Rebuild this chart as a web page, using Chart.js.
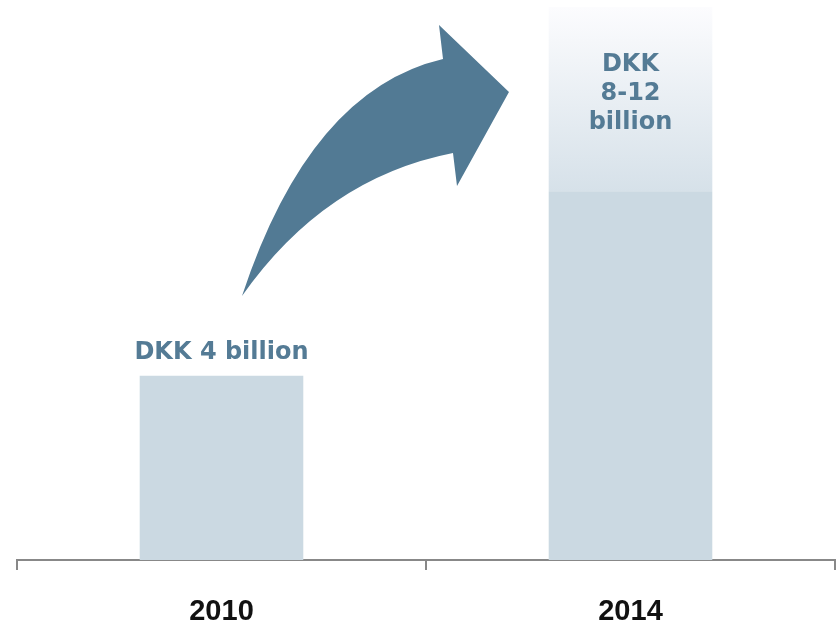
<!DOCTYPE html>
<html>
<head>
<meta charset="utf-8">
<script src="https://cdn.jsdelivr.net/npm/chart.js@4"></script>
<style>
html,body{margin:0;padding:0;background:#fff;}
#wrap{width:839px;height:626px;position:relative;}
</style>
</head>
<body>
<div id="wrap"><canvas id="c" width="839" height="626"></canvas></div>
<script>
// Data
const categories = ['2010', '2014'];
const baseValues = [4, 8];          // DKK billion, solid part
const rangeExtra = [null, 4];       // 2014 upper range 8 -> 12
const barLabels = ['DKK 4 billion', ['DKK', '8-12', 'billion']];
const yMax = 12;

// Arrow decoration (in category-index / value coordinates)
const arrowPts = {
  tail: [0.0501, 5.729],
  upperCtrl: [0.2164, 10.199],
  upperJoint: [0.5416, 10.872],
  upperBarb: [0.5318, 11.610],
  tip: [0.7029, 10.156],
  lowerBarb: [0.5758, 8.116],
  lowerJoint: [0.566, 8.832],
  lowerCtrl: [0.253, 8.289]
};

const textColor = '#547b95';
const barColor = '#cbd9e2';

const decoPlugin = {
  id: 'deco',
  afterDatasetsDraw(chart) {
    const ctx = chart.ctx;
    const xs = chart.scales.x, ys = chart.scales.y;
    const P = p => [xs.getPixelForValue(p[0]), ys.getPixelForValue(p[1])];
    const a = {};
    for (const k in arrowPts) a[k] = P(arrowPts[k]);
    ctx.save();
    ctx.fillStyle = '#527a94';
    ctx.beginPath();
    ctx.moveTo(...a.tail);
    ctx.quadraticCurveTo(...a.upperCtrl, ...a.upperJoint);
    ctx.lineTo(...a.upperBarb);
    ctx.lineTo(...a.tip);
    ctx.lineTo(...a.lowerBarb);
    ctx.lineTo(...a.lowerJoint);
    ctx.quadraticCurveTo(...a.lowerCtrl, ...a.tail);
    ctx.closePath();
    ctx.fill();
    ctx.restore();

    ctx.save();
    ctx.fillStyle = textColor;
    ctx.font = 'bold 24px "DejaVu Sans", Verdana, sans-serif';
    ctx.textAlign = 'center';
    ctx.textBaseline = 'middle';
    const m0 = chart.getDatasetMeta(0).data[0];
    ctx.fillText(barLabels[0], m0.x, m0.y - 23);
    const m1 = chart.getDatasetMeta(1).data[1];
    const lines = barLabels[1];
    lines.forEach((t, i) => {
      ctx.fillText(t, m1.x, m1.y + 58 + i * 29);
    });
    ctx.restore();
  }
};

new Chart(document.getElementById('c'), {
  type: 'bar',
  data: {
    labels: categories,
    datasets: [
      {
        data: baseValues,
        backgroundColor: barColor,
        borderWidth: 0,
        barPercentage: 0.8,
        categoryPercentage: 0.5
      },
      {
        data: rangeExtra,
        backgroundColor: (c) => {
          const ch = c.chart;
          const area = ch.chartArea;
          if (!area) return '#e6ecf2';
          const ys = ch.scales.y;
          const g = ch.ctx.createLinearGradient(0, ys.getPixelForValue(yMax), 0, ys.getPixelForValue(baseValues[1]));
          g.addColorStop(0, '#fcfcfe');
          g.addColorStop(1, '#d6e1e9');
          return g;
        },
        borderWidth: 0,
        barPercentage: 0.8,
        categoryPercentage: 0.5
      }
    ]
  },
  options: {
    responsive: false,
    animation: false,
    devicePixelRatio: 1,
    layout: { padding: { left: 17, right: 4, top: 7, bottom: -27 } },
    plugins: { legend: { display: false }, tooltip: { enabled: false } },
    scales: {
      x: {
        stacked: true,
        border: { display: true, color: '#888888', width: 2 },
        grid: { offset: true, drawOnChartArea: false, drawTicks: true, tickLength: 10, color: '#888888', lineWidth: 2 },
        ticks: {
          padding: 27,
          color: '#111111',
          font: { family: '"Liberation Sans", Arial, sans-serif', weight: 'bold', size: 29, lineHeight: 1.0 }
        }
      },
      y: {
        stacked: true,
        display: false,
        min: 0,
        max: yMax
      }
    }
  },
  plugins: [decoPlugin]
});
</script>
</body>
</html>
